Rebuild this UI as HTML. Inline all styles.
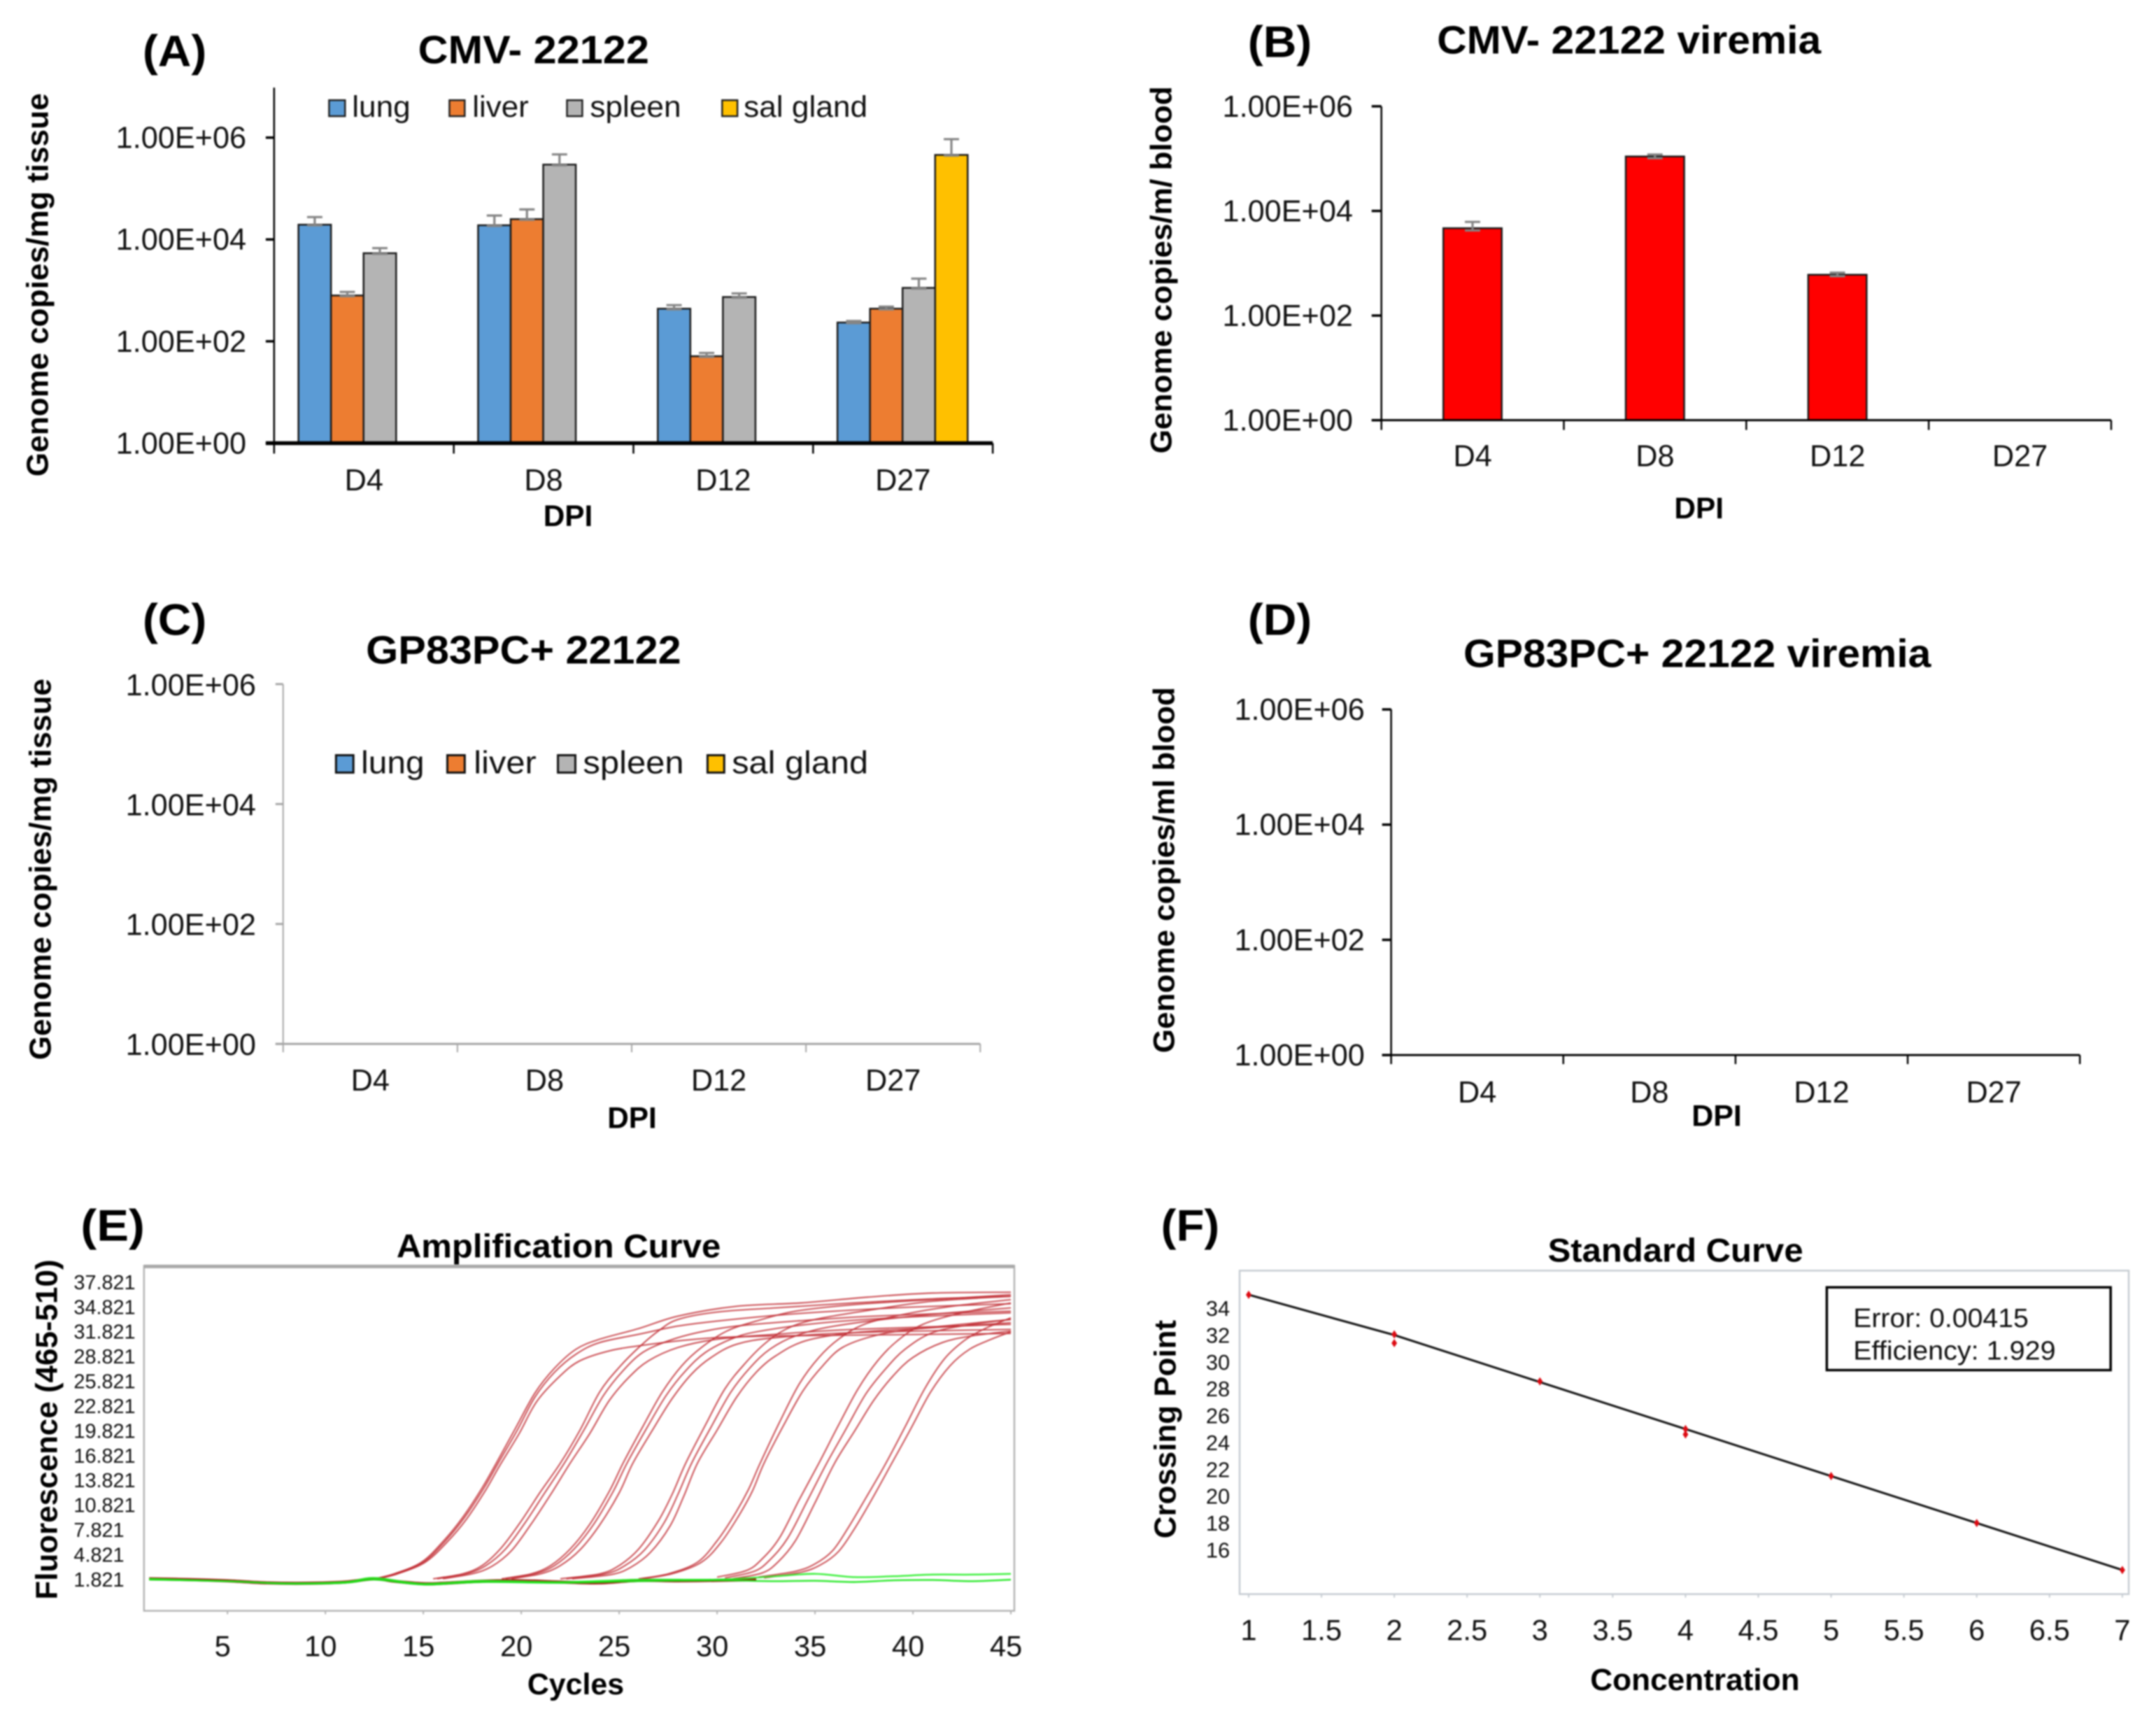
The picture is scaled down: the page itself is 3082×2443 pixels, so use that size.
<!DOCTYPE html>
<html lang="en">
<head>
<meta charset="utf-8">
<title>Viral load figure panels A-F</title>
<style>
html,body{margin:0;padding:0;background:#fff;}
body{width:3082px;height:2443px;overflow:hidden;}
svg{display:block;filter:blur(1px);}
text{font-family:"Liberation Sans",Arial,sans-serif;fill:#111;}
.b{font-weight:bold;fill:#000;}
.t{font-size:43px;}
</style>
</head>
<body>
<svg id="fig" xmlns="http://www.w3.org/2000/svg" width="3082" height="2443" viewBox="0 0 3082 2443">
<rect x="0" y="0" width="3082" height="2443" fill="#fff"/>

<g id="panelA" transform="scale(0.9945)">
  <text class="b" x="205" y="95" font-size="63" textLength="92" lengthAdjust="spacingAndGlyphs">(A)</text>
  <text class="b" x="601" y="91" font-size="57" textLength="332" lengthAdjust="spacingAndGlyphs">CMV- 22122</text>
  <text class="b" transform="translate(69,685) rotate(-90)" font-size="44" textLength="551" lengthAdjust="spacingAndGlyphs">Genome copies/mg tissue</text>
  <text class="b" x="781" y="756" font-size="43" textLength="71" lengthAdjust="spacingAndGlyphs">DPI</text>
  <g>
    <g><rect x="473" y="144" width="23" height="23" fill="#5b9bd5" stroke="#222" stroke-width="2.5"/><text class="t" x="506" y="168" textLength="84" lengthAdjust="spacingAndGlyphs">lung</text></g>
    <g><rect x="646" y="144" width="22" height="23" fill="#ed7d31" stroke="#222" stroke-width="2.5"/><text class="t" x="679" y="168" textLength="81" lengthAdjust="spacingAndGlyphs">liver</text></g>
    <g><rect x="815" y="144" width="22" height="23" fill="#b4b4b4" stroke="#222" stroke-width="2.5"/><text class="t" x="848" y="168" textLength="131" lengthAdjust="spacingAndGlyphs">spleen</text></g>
    <g><rect x="1038" y="144" width="22" height="23" fill="#ffc000" stroke="#222" stroke-width="2.5"/><text class="t" x="1069" y="168" textLength="178" lengthAdjust="spacingAndGlyphs">sal gland</text></g>
  </g>
</g>

<g id="panelB" transform="translate(1560,0) scale(0.9945) translate(-1560,0)">
  <text class="b" x="1785" y="82" font-size="63" textLength="92" lengthAdjust="spacingAndGlyphs">(B)</text>
  <text class="b" x="2057" y="77" font-size="57" textLength="552" lengthAdjust="spacingAndGlyphs">CMV- 22122 viremia</text>
  <text class="b" transform="translate(1675,652) rotate(-90)" font-size="43" textLength="528" lengthAdjust="spacingAndGlyphs">Genome copies/m/ blood</text>
  <text class="b" x="2398" y="745" font-size="43" textLength="71" lengthAdjust="spacingAndGlyphs">DPI</text>
</g>

<g id="panelC" transform="translate(0,820) scale(0.9945) translate(0,-820)">
  <text class="b" x="205" y="908" font-size="63" textLength="92" lengthAdjust="spacingAndGlyphs">(C)</text>
  <text class="b" x="526" y="949" font-size="57" textLength="453" lengthAdjust="spacingAndGlyphs">GP83PC+ 22122</text>
  <text class="b" transform="translate(73,1519) rotate(-90)" font-size="44" textLength="548" lengthAdjust="spacingAndGlyphs">Genome copies/mg tissue</text>
  <text class="b" x="873" y="1617" font-size="43" textLength="71" lengthAdjust="spacingAndGlyphs">DPI</text>
  <g>
    <g><rect x="483" y="1081" width="25" height="25" fill="#5b9bd5" stroke="#111" stroke-width="3"/><text class="t" x="519" y="1107" style="font-size:46px" textLength="91" lengthAdjust="spacingAndGlyphs">lung</text></g>
    <g><rect x="643" y="1081" width="25" height="25" fill="#ed7d31" stroke="#111" stroke-width="3"/><text class="t" x="681" y="1107" style="font-size:46px" textLength="90" lengthAdjust="spacingAndGlyphs">liver</text></g>
    <g><rect x="802" y="1081" width="25" height="25" fill="#b4b4b4" stroke="#111" stroke-width="3"/><text class="t" x="838" y="1107" style="font-size:46px" textLength="145" lengthAdjust="spacingAndGlyphs">spleen</text></g>
    <g><rect x="1017" y="1081" width="24" height="25" fill="#ffc000" stroke="#111" stroke-width="3"/><text class="t" x="1052" y="1107" style="font-size:46px" textLength="196" lengthAdjust="spacingAndGlyphs">sal gland</text></g>
  </g>
</g>

<g id="panelD" transform="translate(1560,820) scale(0.9945) translate(-1560,-820)">
  <text class="b" x="1785" y="908" font-size="63" textLength="92" lengthAdjust="spacingAndGlyphs">(D)</text>
  <text class="b" x="2095" y="954" font-size="57" textLength="672" lengthAdjust="spacingAndGlyphs">GP83PC+ 22122 viremia</text>
  <text class="b" transform="translate(1679,1509) rotate(-90)" font-size="43" textLength="526" lengthAdjust="spacingAndGlyphs">Genome copies/ml blood</text>
  <text class="b" x="2423" y="1614" font-size="43" textLength="72" lengthAdjust="spacingAndGlyphs">DPI</text>
</g>

<g id="panelE" transform="translate(0,1700) scale(0.9945) translate(0,-1700)">
  <text class="b" x="116" y="1774" font-size="63" textLength="92" lengthAdjust="spacingAndGlyphs">(E)</text>
  <text class="b" x="570" y="1798" font-size="48" textLength="466" lengthAdjust="spacingAndGlyphs">Amplification Curve</text>
  <text class="b" transform="translate(82,2290) rotate(-90)" font-size="44" textLength="489" lengthAdjust="spacingAndGlyphs">Fluorescence (465-510)</text>
  <text class="b" x="758" y="2426" font-size="43" textLength="139" lengthAdjust="spacingAndGlyphs">Cycles</text>
  <rect x="207" y="1810" width="1251" height="496" fill="#fff" stroke="#b4b4b4" stroke-width="2.5"/>
  <line x1="207" y1="1811" x2="1458" y2="1811" stroke="#a8a8a8" stroke-width="5"/>
</g>

<g id="panelF" transform="translate(1600,1700) scale(0.9945) translate(-1600,-1700)">
  <text class="b" x="1660" y="1774" font-size="63" textLength="84" lengthAdjust="spacingAndGlyphs">(F)</text>
  <text class="b" x="2216" y="1804" font-size="48" textLength="367" lengthAdjust="spacingAndGlyphs">Standard Curve</text>
  <text class="b" transform="translate(1681,2202) rotate(-90)" font-size="44" textLength="314" lengthAdjust="spacingAndGlyphs">Crossing Point</text>
  <text class="b" x="2277" y="2420" font-size="44" textLength="301" lengthAdjust="spacingAndGlyphs">Concentration</text>
  <rect x="1773" y="1817" width="1278" height="465" fill="#fff" stroke="#c6ccd2" stroke-width="2.5"/>
  <g id="panelFMarks"></g>
  <rect x="2617" y="1841" width="408" height="119" fill="#fff" stroke="#000" stroke-width="3.5"/>
  <text x="2655" y="1898" font-size="38" textLength="252" lengthAdjust="spacingAndGlyphs">Error: 0.00415</text>
  <text x="2655" y="1945" font-size="38" textLength="291" lengthAdjust="spacingAndGlyphs">Efficiency: 1.929</text>
</g>
</svg>

<script>
// ---------- shared axis data ----------
const dpiCategories = ['D4', 'D8', 'D12', 'D27'];
const logTickValues = [1, 100, 10000, 1000000];
const logTickLabels = ['1.00E+00', '1.00E+02', '1.00E+04', '1.00E+06'];

// ---------- panel A: genome copies per mg tissue ----------
const cmvLung = [19500, 19000, 437, 234];
const cmvLiver = [794, 25100, 51, 437];
const cmvSpleen = [5370, 295000, 741, 1120];
const cmvSalGland = [1, 1, 1, 457000];
const cmvLungErr = [27500, 29500, 513, 251];
const cmvLiverErr = [933, 38900, 59, 479];
const cmvSpleenErr = [6760, 468000, 871, 1700];
const cmvSalGlandErr = [null, null, null, 933000];

// ---------- panel B: viremia ----------
const cmvViremia = [4680, 110000, 603, 1];
const cmvViremiaErrHigh = [6170, 120000, 661, null];
const cmvViremiaErrLow = [4370, 105000, 585, null];

// ---------- panel C / D: nothing detected ----------
const gpLung = [1, 1, 1, 1];
const gpLiver = [1, 1, 1, 1];
const gpSpleen = [1, 1, 1, 1];
const gpSalGland = [1, 1, 1, 1];
const gpViremia = [1, 1, 1, 1];

// ---------- panel E: amplification curves, [cycle, fluorescence] ----------
const ampTickLabels = ['1.821', '4.821', '7.821', '10.821', '13.821', '16.821', '19.821', '22.821', '25.821', '28.821', '31.821', '34.821', '37.821'];
const ampCycleTicks = [5, 10, 15, 20, 25, 30, 35, 40, 45];
const ampBaselineRed = [[1,2.0],[3,1.9],[5,1.75],[7,1.5],[9,1.45],[11,1.6],[12.5,2.0],[13.5,1.7],[15,1.4],[16,1.45],[18,1.7],[20,1.75],[22,1.6],[24,1.5],[26,1.8],[28,1.75],[30,1.8],[32,1.9]];
const ampGreenA = [[1,2.0],[5,1.7],[8,1.45],[11,1.6],[12.5,2.1],[15,1.4],[18,1.75],[22,1.6],[26,1.9],[30,1.9],[33,2.3],[35,2.6],[37,2.2],[39,2.3],[41,2.5],[43,2.5],[45,2.6]];
const ampGreenB = [[1,1.9],[5,1.7],[8,1.4],[11,1.5],[12.5,1.9],[15,1.3],[18,1.6],[22,1.5],[26,1.7],[30,1.8],[33,1.7],[35,1.75],[37,1.6],[39,1.8],[41,1.85],[43,1.7],[45,1.9]];
const ampCurve1a = [[12.5,2.0],[13.5,2.6],[14.9,4.0],[16,6.5],[17,9.4],[18,13.0],[18.7,15.9],[19.7,20.2],[20.7,24.5],[21.7,27.5],[22.8,29.8],[24,31.0],[26,32.3],[28,33.8],[31,35.0],[34.3,35.4],[37.7,36.1],[41,36.6],[45,36.7]];
const ampCurve1b = [[12.6,2.0],[13.6,2.6],[15,4.0],[16.1,6.5],[17.1,9.4],[18.1,13.0],[18.8,15.9],[19.8,20.0],[20.7,24.0],[21.7,27.0],[22.8,29.2],[24,30.6],[26,31.6],[28,32.6],[30,33.2],[33,33.9],[36,34.4],[40,34.9],[45,35.3]];
const ampCurve1c = [[12.7,2.0],[13.7,2.6],[15.1,4.0],[16.2,6.4],[17.2,9.2],[18.2,12.8],[18.9,15.7],[19.9,19.6],[20.8,23.5],[22,26.6],[23,28.4],[24.5,29.6],[26,30.2],[28,30.8],[30,31.2],[33,31.4],[37,31.5],[45,31.7]];
const ampCurve2a = [[15.5,2.0],[17,2.6],[18,3.6],[19,5.8],[20,9],[21,12.6],[22,16],[23,20],[24,24.6],[25,27.6],[26,30],[27,32],[28,33.4],[30,34.3],[33,34.8],[37,35.4],[41,35.9],[45,36.2]];
const ampCurve2b = [[15.7,2.0],[17.2,2.6],[18.2,3.6],[19.2,5.6],[20.2,8.8],[21.2,12.4],[22.2,16],[23.2,20],[24.2,24.2],[25.2,27.2],[26.2,29.4],[27.5,30.8],[29,31.8],[31,32.6],[34,33.2],[38,33.8],[45,34.4]];
const ampCurve2c = [[16,2.0],[17.5,2.6],[18.5,3.5],[19.5,5.4],[20.5,8.6],[21.5,12.2],[22.5,16],[23.5,19.6],[24.5,23.6],[25.5,26.4],[26.5,28.4],[28,30],[30,31],[33,31.6],[37,32.2],[45,32.8]];
const ampCurve3a = [[19,2],[20.5,2.6],[21.5,3.6],[22.5,5.6],[23.5,8.6],[24.5,12.6],[25.2,16],[26.2,20.4],[27.2,24.6],[28.2,27.8],[29.2,30],[30.5,32],[32,33.2],[34,34.4],[37,35.2],[41,35.8],[45,36.4]];
const ampCurve3b = [[19.2,2],[20.7,2.6],[21.7,3.6],[22.7,5.6],[23.7,8.6],[24.7,12.6],[25.4,16],[26.4,20.2],[27.4,24.2],[28.4,27.2],[29.4,29.4],[30.7,31],[32,31.9],[35,32.9],[39,33.6],[45,34.2]];
const ampCurve3c = [[19.5,2],[21,2.6],[22,3.6],[23,5.5],[24,8.5],[25,12.4],[25.7,16],[26.7,20],[27.7,23.8],[28.7,26.8],[29.7,28.8],[31,30.4],[33,31.2],[37,31.8],[45,32.2]];
const ampCurve4a = [[22,2],[24,2.6],[25,3.6],[26,5.6],[27,9.0],[27.7,12.2],[28.4,16],[29.4,20.6],[30.4,25],[31.4,28],[32.4,30.4],[33.5,32.2],[35,33.4],[38,34.6],[41,35.6],[45,36.2]];
const ampCurve4b = [[22.3,2],[24.3,2.6],[25.3,3.6],[26.3,5.5],[27.3,8.8],[28,12.2],[28.7,16],[29.7,20.4],[30.7,24.6],[31.7,27.6],[32.7,29.8],[34,31.4],[36,32.6],[40,33.8],[45,34.8]];
const ampCurve4c = [[22.6,2],[24.6,2.5],[25.6,3.4],[26.6,5.2],[27.6,8.4],[28.3,12],[29,16],[30,20],[31,24],[32,27],[33,29],[34.5,30.8],[37,31.8],[41,32.4],[45,33]];
const ampCurve5a = [[26,2],[27.5,2.6],[29,4],[30,6.6],[30.9,9.8],[31.6,12.8],[32.2,16],[33.2,21],[34.2,25.6],[35.2,28.8],[36.2,31],[37.5,32.8],[39.5,34],[42,35],[45,35.8]];
const ampCurve5b = [[26.2,2],[27.7,2.6],[29.2,4],[30.2,6.4],[31.1,9.6],[31.8,12.6],[32.4,16],[33.4,20.6],[34.4,24.8],[35.4,27.8],[36.4,30],[38,31.4],[40,32.2],[45,33.4]];
const ampCurve6a = [[30,2.2],[31.5,3.0],[32.3,4.4],[33.2,7],[34.2,11.6],[35.2,16],[36.2,20.6],[37.2,25],[38.2,28.4],[39.2,30.8],[40.5,32.8],[42.5,34.2],[45,35.4]];
const ampCurve6b = [[30.4,2.1],[31.9,2.9],[32.7,4.3],[33.6,6.9],[34.6,11.4],[35.6,16],[36.6,20.2],[37.6,24.4],[38.6,27.4],[39.6,29.8],[41,31.8],[43,32.8],[45,33.4]];
const ampCurve6c = [[30.8,2],[32.3,2.7],[33.1,4],[34,6.6],[35,11.2],[36,16],[37,19.8],[38,23.6],[39,26.6],[40,28.8],[41.5,30.6],[43,31.4],[45,32]];
const ampCurve7a = [[32.1,2.2],[34,2.9],[35,3.8],[35.9,5.4],[36.7,8.2],[37.6,11.8],[38.6,15.9],[39.6,20.4],[40.6,25],[41.6,28.6],[42.6,30.8],[43.6,32.2],[45,33.6]];
const ampCurve7b = [[32.4,2.1],[34.3,2.8],[35.3,3.7],[36.2,5.3],[37,8],[37.9,11.6],[38.9,15.9],[39.9,20.2],[40.9,24.6],[41.9,27.8],[42.9,29.8],[44,31],[45,31.9]];
const ampRedCurves = [ampCurve1a, ampCurve1b, ampCurve1c, ampCurve2a, ampCurve2b, ampCurve2c, ampCurve3a, ampCurve3b, ampCurve3c, ampCurve4a, ampCurve4b, ampCurve4c, ampCurve5a, ampCurve5b, ampCurve6a, ampCurve6b, ampCurve6c, ampCurve7a, ampCurve7b];

// ---------- panel F: standard curve ----------
const stdYTicks = [16, 18, 20, 22, 24, 26, 28, 30, 32, 34];
const stdXTicks = [1, 1.5, 2, 2.5, 3, 3.5, 4, 4.5, 5, 5.5, 6, 6.5, 7];
const stdFitConc = [1, 1.5, 2, 3, 4, 5, 6, 7];
const stdFitCp = [35, 33.5, 32, 28.5, 25, 21.5, 18, 14.5];
const stdPointConc = [1, 2, 2, 3, 4, 4, 5, 6, 7];
const stdPointCp = [35, 32.05, 31.4, 28.55, 25, 24.6, 21.5, 18, 14.5];

// ---------- drawing ----------
const NS = 'http://www.w3.org/2000/svg';
function mk(parent, tag, attrs, txt) {
  const el = document.createElementNS(NS, tag);
  for (const k in attrs) el.setAttribute(k, attrs[k]);
  if (txt !== undefined) el.textContent = txt;
  parent.appendChild(el);
  return el;
}

function drawLogPanel(host, o) {
  const yOf = v => o.y0 - Math.log10(v) * o.decade;
  const catW = (o.x1 - o.x0) / dpiCategories.length;

  // bars (series clustered inside each category)
  o.series.forEach((s, si) => {
    s.values.forEach((v, ci) => {
      const left = o.x0 + ci * catW + o.barOffset + si * o.barW;
      if (v > 1) {
        const bar = mk(host, 'rect', {x: left, y: yOf(v), width: o.barW, height: o.y0 - yOf(v), fill: s.color, stroke: '#1a1a1a', 'stroke-width': 2.5});
        
        
      }
      const hi = s.errHigh ? s.errHigh[ci] : null;
      if (hi) {
        const lo = s.errLow ? s.errLow[ci] : v;
        const cx = left + o.barW / 2;
        const err = mk(host, 'path', {d: 'M' + cx + ' ' + yOf(hi) + 'V' + yOf(lo) + 'M' + (cx - 11) + ' ' + yOf(hi) + 'H' + (cx + 11) + 'M' + (cx - 11) + ' ' + (yOf(lo) + 1) + 'H' + (cx + 11), fill: 'none', stroke: '#858585', 'stroke-width': 3.2});
        
        
      }
    });
  });

  // axes
  const yAxis = mk(host, 'line', {x1: o.x0, y1: o.yTop, x2: o.x0, y2: o.y0 + 1, stroke: o.axisColor, 'stroke-width': o.axisW});
  
  
  const xAxis = mk(host, 'line', {x1: o.x0 - o.tickLen, y1: o.y0, x2: o.x1, y2: o.y0, stroke: o.axisColor, 'stroke-width': o.xAxisW});
  
  

  logTickValues.forEach((v, i) => {
    const tick = mk(host, 'line', {x1: o.x0 - o.tickLen, y1: yOf(v), x2: o.x0, y2: yOf(v), stroke: o.axisColor, 'stroke-width': o.axisW + 1});
    
    
    const label = mk(host, 'text', {x: o.labelRight, y: yOf(v) + o.labelDy, 'text-anchor': 'end', 'font-size': o.fontSize}, logTickLabels[i]);
    
    
  });
  for (let i = 0; i <= dpiCategories.length; i++) {
    const cx = o.x0 + i * catW;
    const tick = mk(host, 'line', {x1: cx, y1: o.y0, x2: cx, y2: o.y0 + o.catTick, stroke: o.axisColor, 'stroke-width': o.axisW});
    
    
  }
  dpiCategories.forEach((c, i) => {
    const label = mk(host, 'text', {x: o.x0 + (i + 0.5) * catW, y: o.catBaseline, 'text-anchor': 'middle', 'font-size': o.fontSize}, c);
    
    
  });
}

drawLogPanel(document.getElementById('panelA'), {
  x0: 394, x1: 1427, y0: 637, decade: 73.2, yTop: 126, axisColor: '#000', axisW: 2.5, xAxisW: 5.5, tickLen: 12, catTick: 15,
  labelRight: 354, labelDy: 15, fontSize: 43.5, catBaseline: 705, barOffset: 35, barW: 46.8,
  series: [
    {name: 'lung', color: '#5b9bd5', values: cmvLung, errHigh: cmvLungErr},
    {name: 'liver', color: '#ed7d31', values: cmvLiver, errHigh: cmvLiverErr},
    {name: 'spleen', color: '#b4b4b4', values: cmvSpleen, errHigh: cmvSpleenErr},
    {name: 'sal-gland', color: '#ffc000', values: cmvSalGland, errHigh: cmvSalGlandErr}
  ]
});
drawLogPanel(document.getElementById('panelB'), {
  x0: 1977, x1: 3026, y0: 604, decade: 75.2, yTop: 153, axisColor: '#000', axisW: 2.5, xAxisW: 3, tickLen: 14, catTick: 14,
  labelRight: 1936, labelDy: 15, fontSize: 43.5, catBaseline: 670, barOffset: 89, barW: 84,
  series: [{name: 'viremia', color: '#ff0000', values: cmvViremia, errHigh: cmvViremiaErrHigh, errLow: cmvViremiaErrLow}]
});
drawLogPanel(document.getElementById('panelC'), {
  x0: 407, x1: 1409, y0: 1496, decade: 86.2, yTop: 979, axisColor: '#a6a6a6', axisW: 2, xAxisW: 3, tickLen: 11, catTick: 12,
  labelRight: 368, labelDy: 16, fontSize: 43.5, catBaseline: 1563, barOffset: 32, barW: 46.8,
  series: [
    {name: 'lung', color: '#5b9bd5', values: gpLung},
    {name: 'liver', color: '#ed7d31', values: gpLiver},
    {name: 'spleen', color: '#b4b4b4', values: gpSpleen},
    {name: 'sal-gland', color: '#ffc000', values: gpSalGland}
  ]
});
drawLogPanel(document.getElementById('panelD'), {
  x0: 1991, x1: 2981, y0: 1512, decade: 82.8, yTop: 1015, axisColor: '#000', axisW: 2.5, xAxisW: 3, tickLen: 13, catTick: 13,
  labelRight: 1953, labelDy: 15, fontSize: 43.5, catBaseline: 1580, barOffset: 82, barW: 84,
  series: [{name: 'viremia', color: '#ff0000', values: gpViremia}]
});

// panel E
const panelE = document.getElementById('panelE');
const ampX = c => 327 + (c - 5) * 28.15;
const ampY = v => 2262 - (v - 1.821) * 11.87;
// smooth path through the read points (Catmull-Rom to cubic Bezier)
function ampPath(pts) {
  const p = pts.map(q => [ampX(q[0]), ampY(q[1])]);
  let d = 'M' + p[0][0].toFixed(1) + ' ' + p[0][1].toFixed(1);
  for (let i = 0; i < p.length - 1; i++) {
    const a = p[Math.max(i - 1, 0)], b = p[i], c = p[i + 1], e = p[Math.min(i + 2, p.length - 1)];
    d += 'C' + (b[0] + (c[0] - a[0]) / 6).toFixed(1) + ' ' + (b[1] + (c[1] - a[1]) / 6).toFixed(1) + ' ' +
         (c[0] - (e[0] - b[0]) / 6).toFixed(1) + ' ' + (c[1] - (e[1] - b[1]) / 6).toFixed(1) + ' ' +
         c[0].toFixed(1) + ' ' + c[1].toFixed(1);
  }
  return d;
}

ampTickLabels.forEach((t, i) => {
  const label = mk(panelE, 'text', {x: 106, y: ampY(parseFloat(t)) + 9, 'font-size': 29}, t);
  
  
});
ampCycleTicks.forEach(c => {
  const tick = mk(panelE, 'line', {x1: ampX(c), y1: 2306, x2: ampX(c), y2: 2311, stroke: '#b4b4b4', 'stroke-width': 2});
  
  
  const label = mk(panelE, 'text', {x: ampX(c) - 7, y: 2371, 'text-anchor': 'middle', 'font-size': 42}, String(c));
  
  
});
ampRedCurves.forEach((pts, i) => {
  const curve = mk(panelE, 'path', {d: ampPath(pts), fill: 'none', stroke: '#c0282f', 'stroke-opacity': 0.85, 'stroke-width': 1.9});
  
  
});
const flatRed = mk(panelE, 'path', {d: ampPath(ampBaselineRed), fill: 'none', stroke: '#a81818', 'stroke-width': 4.5});


const greenA = mk(panelE, 'path', {d: ampPath(ampGreenA), fill: 'none', stroke: '#22ee22', 'stroke-opacity': 0.9, 'stroke-width': 2.4});


const greenB = mk(panelE, 'path', {d: ampPath(ampGreenB), fill: 'none', stroke: '#10e610', 'stroke-opacity': 0.9, 'stroke-width': 2.4});



// panel F
const panelF = document.getElementById('panelFMarks');
const stdX = c => 1786 + (c - 1) * 209.3;
const stdY = v => 1871 + (34 - v) * 19.3;
stdYTicks.forEach(v => {
  const label = mk(panelF, 'text', {x: 1759, y: stdY(v) + 11, 'text-anchor': 'end', 'font-size': 31, fill: '#222'}, String(v));
  
  
});
stdXTicks.forEach(c => {
  const tick = mk(panelF, 'line', {x1: stdX(c), y1: 2282, x2: stdX(c), y2: 2287, stroke: '#c6ccd2', 'stroke-width': 2});
  
  
  const label = mk(panelF, 'text', {x: stdX(c), y: 2348, 'text-anchor': 'middle', 'font-size': 42}, String(c));
  
  
});
const fitPath = stdFitConc.map((c, i) => (i ? 'L' : 'M') + stdX(c).toFixed(1) + ' ' + stdY(stdFitCp[i]).toFixed(1)).join('');
const fitLine = mk(panelF, 'path', {d: fitPath, fill: 'none', stroke: '#111', 'stroke-width': 3});


stdPointConc.forEach((c, i) => {
  const px = stdX(c), py = stdY(stdPointCp[i]);
  const pt = mk(panelF, 'path', {d: 'M' + px + ' ' + (py - 6) + 'L' + (px + 4) + ' ' + py + 'L' + px + ' ' + (py + 6) + 'L' + (px - 4) + ' ' + py + 'Z', fill: '#dd0a12'});
  
  
});
</script>
</body>
</html>
